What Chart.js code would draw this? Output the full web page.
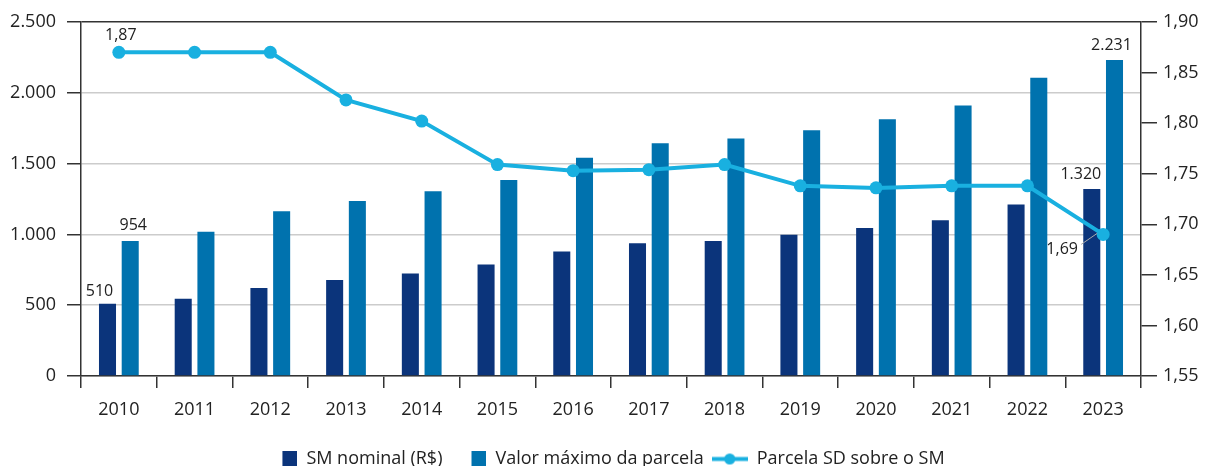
<!DOCTYPE html>
<html lang="pt-BR">
<head>
<meta charset="utf-8">
<title>SM nominal e valor máximo da parcela</title>
<script src="https://cdn.jsdelivr.net/npm/chart.js@4"></script>
<style>
  html, body { margin: 0; padding: 0; background: #fff; }
  #wrap { width: 1206px; height: 466px; }
</style>
</head>
<body>
<div id="wrap"><canvas id="myChart" width="1206" height="466"></canvas></div>
<script>
const years = ["2010", "2011", "2012", "2013", "2014", "2015", "2016",
  "2017", "2018", "2019", "2020", "2021", "2022", "2023"];

// SM nominal (R$)
const smNominal = [510, 545, 622, 678, 724, 788, 880, 937, 954, 998, 1045, 1100, 1212, 1320];

// Valor máximo da parcela
const valorMaximo = [954, 1019, 1163, 1235, 1304, 1385, 1542, 1643, 1678, 1735, 1813, 1911, 2107, 2231];

// Parcela SD sobre o SM
const parcelaSD = [1.87, 1.87, 1.87, 1.823, 1.802, 1.759, 1.753, 1.754, 1.759, 1.738, 1.736, 1.738, 1.738, 1.69];

const darkBlue = "#0b347b";
const midBlue = "#0072ae";
const lineBlue = "#19b0e0";
const axisColor = "#333333";
const gridColor = "#cccccc";
const textColor = "#222222";
const fontFamily = "'Open Sans', 'Noto Sans', sans-serif";
const fontSize = 18;

// thousands with a dot, decimals with a comma
const fmtInt = (v) => String(Math.round(v)).replace(/\B(?=(\d{3})+(?!\d))/g, ".");
const fmtDec = (v) => v.toFixed(2).replace(".", ",");

// legend markers
function boxMarker(color) {
  const c = document.createElement("canvas");
  c.width = 36;
  c.height = 17;
  const g = c.getContext("2d");
  g.fillStyle = color;
  g.fillRect(21, 0, 15, 17);
  return c;
}
function lineMarker(color) {
  const c = document.createElement("canvas");
  c.width = 36;
  c.height = 17;
  const g = c.getContext("2d");
  g.strokeStyle = color;
  g.lineWidth = 4;
  g.beginPath();
  g.moveTo(0, 8.5);
  g.lineTo(36, 8.5);
  g.stroke();
  g.fillStyle = color;
  g.beginPath();
  g.arc(18, 8.5, 5.5, 0, Math.PI * 2);
  g.fill();
  return c;
}
const markers = [boxMarker(darkBlue), boxMarker(midBlue), lineMarker(lineBlue)];

// value labels at the first and last year
const valueLabels = {
  id: "valueLabels",
  afterDatasetsDraw(chart) {
    const ctx = chart.ctx;
    const m0 = chart.getDatasetMeta(0).data;
    const m1 = chart.getDatasetMeta(1).data;
    const m2 = chart.getDatasetMeta(2).data;
    const last = years.length - 1;
    ctx.save();
    ctx.font = "16px " + fontFamily;
    ctx.fillStyle = textColor;
    ctx.textAlign = "center";
    ctx.textBaseline = "middle";
    ctx.fillText(fmtInt(smNominal[0]), m0[0].x - 8, m0[0].y - 12);
    ctx.fillText(fmtInt(valorMaximo[0]), m1[0].x + 3, m1[0].y - 15);
    ctx.fillText(fmtDec(parcelaSD[0]), m2[0].x + 2, m2[0].y - 17);
    ctx.fillText(fmtInt(valorMaximo[last]), m1[last].x - 3, m1[last].y - 15);
    ctx.fillText(fmtInt(smNominal[last]), m0[last].x - 11, m0[last].y - 15);
    const p = m2[last];
    ctx.fillText(fmtDec(parcelaSD[last]), p.x - 41, p.y + 15);
    // leader line
    ctx.strokeStyle = "#aaaaaa";
    ctx.lineWidth = 1;
    ctx.beginPath();
    ctx.moveTo(p.x - 22, p.y + 10);
    ctx.lineTo(p.x - 6, p.y - 1);
    ctx.stroke();
    ctx.restore();
  }
};

const ctx = document.getElementById("myChart");

new Chart(ctx, {
  type: "bar",
  data: {
    labels: years,
    datasets: [
      {
        label: "SM nominal (R$)",
        data: smNominal,
        backgroundColor: darkBlue,
        yAxisID: "y",
        order: 1
      },
      {
        label: "Valor máximo da parcela",
        data: valorMaximo,
        backgroundColor: midBlue,
        yAxisID: "y",
        order: 1
      },
      {
        type: "line",
        label: "Parcela SD sobre o SM",
        data: parcelaSD,
        borderColor: lineBlue,
        backgroundColor: lineBlue,
        borderWidth: 4,
        pointRadius: 6.5,
        pointHoverRadius: 6.5,
        pointBorderWidth: 0,
        pointBackgroundColor: lineBlue,
        tension: 0,
        yAxisID: "y1",
        order: 0
      }
    ]
  },
  options: {
    responsive: false,
    animation: false,
    categoryPercentage: 0.6,
    barPercentage: 0.75,
    layout: { padding: { top: 22, left: 0, right: 0, bottom: -12 } },
    plugins: {
      tooltip: { enabled: false },
      legend: {
        position: "bottom",
        labels: {
          color: textColor,
          font: { family: fontFamily, size: fontSize },
          usePointStyle: true,
          pointStyleWidth: 36,
          boxHeight: 17,
          padding: 8,
          generateLabels(chart) {
            const items = Chart.defaults.plugins.legend.labels.generateLabels(chart);
            items.sort((a, b) => a.datasetIndex - b.datasetIndex);
            items.forEach((item) => {
              item.pointStyle = markers[item.datasetIndex];
              item.lineWidth = 0;
            });
            return items;
          }
        }
      }
    },
    scales: {
      x: {
        grid: {
          offset: true,
          drawOnChartArea: false,
          drawTicks: true,
          tickLength: 12,
          color: axisColor,
          lineWidth: 1.5
        },
        border: { color: axisColor, width: 1.5 },
        ticks: {
          color: textColor,
          font: { family: fontFamily, size: fontSize },
          padding: 11,
          maxRotation: 0
        },
        afterFit: (scale) => { scale.height = 66; }
      },
      y: {
        position: "left",
        min: 0,
        max: 2500,
        ticks: {
          stepSize: 500,
          color: textColor,
          font: { family: fontFamily, size: fontSize },
          padding: 11,
          callback: (v) => fmtInt(v)
        },
        grid: {
          color: (c) => (c.tick && c.tick.value === 2500 ? axisColor : gridColor),
          tickColor: axisColor,
          lineWidth: 1.5,
          tickLength: 14
        },
        border: { color: axisColor, width: 1.5 },
        afterFit: (scale) => { scale.width = 81; }
      },
      y1: {
        position: "right",
        min: 1.55,
        max: 1.9,
        ticks: {
          stepSize: 0.05,
          color: textColor,
          font: { family: fontFamily, size: fontSize },
          padding: 6,
          callback: (v) => fmtDec(v)
        },
        grid: {
          drawOnChartArea: false,
          color: axisColor,
          lineWidth: 1.5,
          tickLength: 16
        },
        border: { color: axisColor, width: 1.5 },
        afterFit: (scale) => { scale.width = 65; }
      }
    }
  },
  plugins: [valueLabels]
});
</script>
</body>
</html>
